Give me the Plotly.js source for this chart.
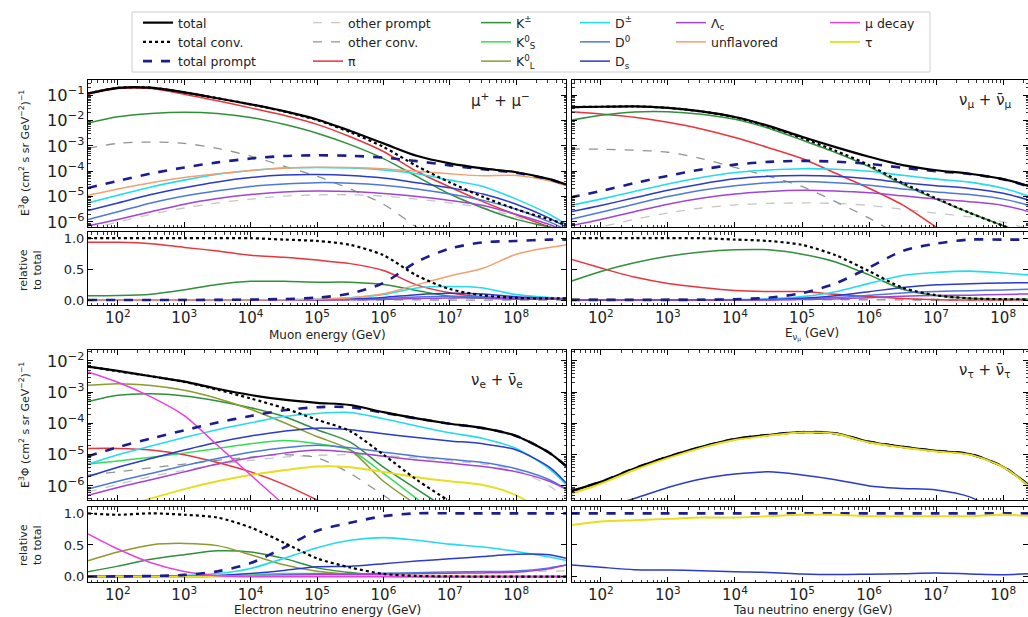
<!DOCTYPE html>
<html>
<head>
<meta charset="utf-8">
<script src="https://cdn.plot.ly/plotly-3.0.1.min.js"></script>
<style>
  html, body { margin: 0; padding: 0; background: #fff; }
  #chart { width: 1028px; height: 617px; }
</style>
</head>
<body>
<div id="chart"></div>
<script>
// Energy grid (GeV)
const energy = [35.5, 1e2, 3.16e2, 1e3, 3.16e3, 1e4, 3.16e4, 1e5, 3.16e5, 1e6, 3.16e6, 1e7, 3.16e7, 1e8, 3.16e8, 5.62e8];

// All fluxes below are log10 of E^3 Phi, in (cm^2 s sr GeV^-2)^-1

// Muons
const muTotal        = [-0.93, -0.71, -0.70, -0.89, -1.12, -1.36, -1.63, -1.96, -2.41, -2.90, -3.39, -3.69, -3.89, -4.04, -4.31, -4.52];
const muConv         = [-0.93, -0.71, -0.70, -0.89, -1.12, -1.36, -1.64, -1.98, -2.46, -3.04, -3.79, -4.44, -5.01, -5.50, -5.90, -6.10];
const muPrompt       = [-4.66, -4.38, -4.09, -3.85, -3.65, -3.50, -3.40, -3.37, -3.39, -3.46, -3.60, -3.77, -3.92, -4.06, -4.32, -4.53];
const muOtherPrompt  = [-6.30, -6.00, -5.70, -5.45, -5.25, -5.10, -4.98, -4.93, -4.93, -4.98, -5.10, -5.25, -5.45, -5.80, -6.30, -6.60];
const muOtherConv    = [-3.10, -2.90, -2.85, -2.90, -3.10, -3.40, -3.80, -4.20, -4.70, -5.30, -6.20, -7.00, -7.60, -8.10, -8.50, -8.70];
const muPi           = [-0.96, -0.74, -0.74, -0.96, -1.22, -1.50, -1.79, -2.15, -2.64, -3.22, -4.00, -4.62, -5.20, -5.72, -6.20, -6.45];
const muK            = [-2.10, -1.85, -1.72, -1.67, -1.72, -1.88, -2.15, -2.50, -2.95, -3.50, -4.20, -4.90, -5.45, -5.90, -6.20, -6.35];
const muDpm          = [-5.25, -4.95, -4.62, -4.35, -4.12, -3.97, -3.87, -3.85, -3.87, -3.95, -4.10, -4.35, -4.60, -5.10, -5.70, -6.10];
const muD0           = [-5.90, -5.60, -5.25, -4.98, -4.77, -4.60, -4.50, -4.45, -4.47, -4.55, -4.70, -4.90, -5.15, -5.50, -6.00, -6.30];
const muDs           = [-5.55, -5.25, -4.92, -4.65, -4.42, -4.25, -4.15, -4.13, -4.17, -4.27, -4.45, -4.65, -4.90, -5.30, -5.85, -6.20];
const muLc           = [-6.15, -5.90, -5.60, -5.30, -5.08, -4.92, -4.82, -4.78, -4.80, -4.88, -5.00, -5.15, -5.35, -5.70, -6.10, -6.40];
const muUnflavored   = [-4.95, -4.70, -4.45, -4.25, -4.10, -3.97, -3.88, -3.84, -3.85, -3.90, -4.00, -4.10, -4.18, -4.17, -4.38, -4.57];

// Muon neutrinos
const nmTotal        = [-1.47, -1.455, -1.44, -1.50, -1.64, -1.86, -2.21, -2.64, -3.05, -3.43, -3.76, -3.96, -4.10, -4.31, -4.70, -5.00];
const nmConv         = [-1.47, -1.455, -1.44, -1.50, -1.64, -1.87, -2.23, -2.69, -3.19, -3.76, -4.46, -5.07, -5.64, -6.15, -6.60, -6.85];
const nmPrompt       = [-5.03, -4.78, -4.47, -4.18, -3.93, -3.74, -3.63, -3.59, -3.62, -3.71, -3.86, -4.00, -4.11, -4.32, -4.71, -5.01];
const nmOtherPrompt  = [-6.50, -6.20, -5.90, -5.65, -5.45, -5.33, -5.27, -5.25, -5.27, -5.35, -5.50, -5.65, -5.80, -6.00, -6.40, -6.70];
const nmOtherConv    = [-3.12, -3.13, -3.17, -3.25, -3.50, -3.85, -4.20, -4.60, -5.20, -5.85, -6.60, -7.30, -8.00, -8.50, -9.00, -9.30];
const nmPi           = [-1.65, -1.74, -1.87, -2.07, -2.33, -2.67, -3.07, -3.50, -4.08, -4.67, -5.33, -6.20, -7.00, -7.60, -8.20, -8.50];
const nmK            = [-1.99, -1.79, -1.66, -1.65, -1.75, -1.95, -2.30, -2.77, -3.26, -3.82, -4.52, -5.10, -5.64, -6.15, -6.60, -6.85];
const nmDpm          = [-5.35, -5.10, -4.80, -4.50, -4.25, -4.05, -3.95, -3.90, -3.92, -4.00, -4.16, -4.31, -4.43, -4.67, -5.10, -5.40];
const nmD0           = [-5.90, -5.62, -5.30, -5.00, -4.75, -4.57, -4.45, -4.40, -4.45, -4.55, -4.70, -4.82, -4.92, -5.10, -5.45, -5.75];
const nmDs           = [-5.60, -5.35, -5.05, -4.75, -4.50, -4.30, -4.20, -4.17, -4.20, -4.30, -4.45, -4.57, -4.68, -4.87, -5.25, -5.55];
const nmLc           = [-6.15, -5.90, -5.60, -5.30, -5.07, -4.90, -4.80, -4.75, -4.78, -4.85, -4.97, -5.10, -5.20, -5.35, -5.70, -6.00];

// Electron neutrinos
const neTotal        = [-2.18, -2.32, -2.49, -2.66, -2.89, -3.09, -3.24, -3.34, -3.41, -3.64, -3.84, -4.01, -4.15, -4.40, -4.94, -5.36];
const neConv         = [-2.18, -2.33, -2.49, -2.67, -2.92, -3.20, -3.51, -3.88, -4.25, -5.00, -5.80, -6.50, -7.20, -7.80, -8.30, -8.50];
const nePrompt       = [-5.05, -4.76, -4.48, -4.22, -3.97, -3.76, -3.58, -3.48, -3.48, -3.66, -3.84, -4.01, -4.15, -4.40, -4.94, -5.36];
const neOtherPrompt  = [-6.20, -5.95, -5.70, -5.50, -5.32, -5.18, -5.08, -5.02, -5.00, -5.03, -5.10, -5.20, -5.30, -5.50, -6.00, -6.40];
const neOtherConv    = [-5.65, -5.55, -5.42, -5.30, -5.18, -5.08, -5.00, -5.10, -5.60, -6.30, -7.00, -7.70, -8.30, -8.80, -9.20, -9.40];
const nePi           = [-4.80, -4.80, -4.85, -5.00, -5.25, -5.55, -5.95, -6.45, -7.00, -7.60, -8.20, -8.80, -9.40, -10.0, -10.5, -10.8];
const neK            = [-3.30, -3.10, -3.05, -3.12, -3.28, -3.50, -3.78, -4.20, -4.60, -5.40, -6.10, -6.80, -7.50, -8.10, -8.60, -8.90];
const neK0S          = [-5.30, -5.20, -5.08, -4.95, -4.80, -4.65, -4.55, -4.65, -4.85, -5.60, -6.40, -7.20, -8.00, -8.60, -9.00, -9.30];
const neK0L          = [-2.78, -2.73, -2.79, -2.94, -3.20, -3.55, -3.97, -4.42, -4.85, -5.85, -6.60, -7.30, -8.00, -8.60, -9.00, -9.30];
const neDpm          = [-5.30, -5.00, -4.72, -4.45, -4.20, -3.98, -3.78, -3.68, -3.65, -3.85, -4.08, -4.30, -4.48, -4.80, -5.45, -5.95];
const neD0           = [-6.10, -5.85, -5.60, -5.35, -5.12, -4.92, -4.78, -4.70, -4.78, -4.92, -5.05, -5.15, -5.25, -5.45, -5.80, -6.10];
const neDs           = [-5.70, -5.40, -5.12, -4.85, -4.60, -4.40, -4.25, -4.15, -4.20, -4.33, -4.45, -4.56, -4.65, -4.85, -5.40, -5.90];
const neLc           = [-6.30, -6.05, -5.80, -5.55, -5.30, -5.10, -4.95, -4.85, -4.92, -5.05, -5.17, -5.27, -5.38, -5.55, -5.85, -6.10];
const neMuDecay      = [-2.35, -2.68, -3.15, -3.75, -4.70, -5.65, -6.60, -7.60, -8.60, -9.50, -10.0, -10.5, -11.0, -11.5, -12.0, -12.3];
const neTau          = [-7.00, -6.70, -6.40, -6.10, -5.85, -5.65, -5.50, -5.38, -5.40, -5.55, -5.72, -5.85, -5.97, -6.30, -7.00, -7.50];

// Tau neutrinos
const ntTotal        = [-6.17, -5.87, -5.44, -5.07, -4.75, -4.50, -4.37, -4.28, -4.32, -4.59, -4.75, -4.88, -4.98, -5.39, -6.20, -6.80];
const ntPrompt       = [-6.17, -5.87, -5.44, -5.07, -4.75, -4.50, -4.37, -4.28, -4.32, -4.59, -4.75, -4.88, -4.98, -5.39, -6.20, -6.80];
const ntDs           = [-6.90, -6.70, -6.40, -6.05, -5.78, -5.62, -5.55, -5.65, -5.80, -6.00, -6.08, -6.13, -6.35, -6.90, -7.50, -8.00];
const ntTau          = [-6.26, -5.93, -5.49, -5.11, -4.78, -4.53, -4.39, -4.29, -4.33, -4.61, -4.77, -4.90, -5.00, -5.40, -6.22, -6.82];

// Line styles per component
const styles = {
  otherPrompt: { name: 'other prompt', color: '#c6c6c6', width: 1.3, dash: 'dash' },
  otherConv:   { name: 'other conv.',  color: '#8d968d', width: 1.3, dash: 'dash' },
  pi:          { name: 'π',            color: '#e8343c', width: 1.5 },
  K:           { name: 'K<sup>±</sup>', color: '#2f8f3a', width: 1.5 },
  K0S:         { name: 'K<sup>0</sup><sub>S</sub>', color: '#35dc58', width: 1.5 },
  K0L:         { name: 'K<sup>0</sup><sub>L</sub>', color: '#8c9a30', width: 1.5 },
  Dpm:         { name: 'D<sup>±</sup>', color: '#22dcee', width: 1.6 },
  D0:          { name: 'D<sup>0</sup>', color: '#4d78dc', width: 1.5 },
  Ds:          { name: 'D<sub>s</sub>', color: '#2a3acb', width: 1.5 },
  Lc:          { name: 'Λ<sub>c</sub>', color: '#a043d6', width: 1.5 },
  unfl:        { name: 'unflavored',   color: '#f2a070', width: 1.5 },
  mu:          { name: 'μ decay',      color: '#e840de', width: 1.5 },
  tau:         { name: 'τ',            color: '#e6de1e', width: 1.9 },
  prompt:      { name: 'total prompt', color: '#1c1c8f', width: 2.6, dash: 'dash' },
  conv:        { name: 'total conv.',  color: '#000000', width: 2.2, dash: 'dot' },
  total:       { name: 'total',        color: '#000000', width: 2.2 }
};

const legendColumns = [
  ['total', 'conv', 'prompt'],
  ['otherPrompt', 'otherConv', 'pi'],
  ['K', 'K0S', 'K0L'],
  ['Dpm', 'D0', 'Ds'],
  ['Lc', 'unfl'],
  ['mu', 'tau']
];

// Each panel: main axes, ratio axes, total and drawn components (in drawing order)
const panels = [
  { main: ['x', 'y'], rel: ['x2', 'y2'], total: muTotal, series: [
    ['otherPrompt', muOtherPrompt], ['otherConv', muOtherConv], ['pi', muPi], ['K', muK],
    ['Dpm', muDpm], ['D0', muD0], ['Ds', muDs], ['Lc', muLc], ['unfl', muUnflavored],
    ['prompt', muPrompt], ['conv', muConv], ['total', muTotal]] },
  { main: ['x3', 'y3'], rel: ['x4', 'y4'], total: nmTotal, series: [
    ['otherPrompt', nmOtherPrompt], ['otherConv', nmOtherConv], ['pi', nmPi], ['K', nmK],
    ['Dpm', nmDpm], ['D0', nmD0], ['Ds', nmDs], ['Lc', nmLc],
    ['prompt', nmPrompt], ['conv', nmConv], ['total', nmTotal]] },
  { main: ['x5', 'y5'], rel: ['x6', 'y6'], total: neTotal, series: [
    ['otherPrompt', neOtherPrompt], ['otherConv', neOtherConv], ['pi', nePi], ['K', neK],
    ['K0S', neK0S], ['K0L', neK0L], ['Dpm', neDpm], ['D0', neD0], ['Ds', neDs], ['Lc', neLc],
    ['tau', neTau], ['mu', neMuDecay], ['prompt', nePrompt], ['conv', neConv], ['total', neTotal]] },
  { main: ['x7', 'y7'], rel: ['x8', 'y8'], total: ntTotal, series: [
    ['Ds', ntDs], ['prompt', ntPrompt], ['total', ntTotal], ['tau', ntTau]] }
];

const pow10 = arr => arr.map(v => Math.pow(10, v));
const relative = (arr, tot) => arr.map((v, i) => Math.pow(10, v - tot[i]));

const traces = [];
panels.forEach(p => {
  p.series.forEach(([key, vals]) => {
    const s = styles[key];
    const line = { color: s.color, width: s.width, dash: s.dash || 'solid', shape: 'spline', smoothing: 0.8 };
    traces.push({ type: 'scatter', mode: 'lines', x: energy, y: pow10(vals),
      xaxis: p.main[0], yaxis: p.main[1], line: line, showlegend: false, hoverinfo: 'skip' });
    if (key !== 'total') {
      traces.push({ type: 'scatter', mode: 'lines', x: energy, y: relative(vals, p.total),
        xaxis: p.rel[0], yaxis: p.rel[1], line: line, showlegend: false, hoverinfo: 'skip' });
    }
  });
});

// Legend entries, one legend per column
legendColumns.forEach((col, ci) => {
  col.forEach(key => {
    const s = styles[key];
    traces.push({ type: 'scatter', mode: 'lines', x: [null], y: [null], xaxis: 'x', yaxis: 'y',
      name: s.name, legend: ci === 0 ? 'legend' : 'legend' + (ci + 1),
      line: { color: s.color, width: s.width, dash: s.dash || 'solid' }, showlegend: true, hoverinfo: 'skip' });
  });
});

const W = 1028, H = 617;
const px = v => v / W;
const py = v => 1 - v / H;

const font = { family: 'DejaVu Sans, sans-serif', size: 12, color: '#222' };

function xAxis(domain, range, labels) {
  return {
    type: 'log', domain: domain, range: range, dtick: 1, exponentformat: 'power',
    showticklabels: labels, ticks: 'inside', ticklen: 5, tickwidth: 1, tickcolor: '#000',
    minor: { ticks: 'inside', ticklen: 2.5, tickwidth: 0.8, tickcolor: '#000', dtick: 'D1', showgrid: false },
    showline: true, linecolor: '#000', linewidth: 1, mirror: 'allticks',
    showgrid: false, zeroline: false, tickfont: { size: 12 }, ticklabelstandoff: 0
  };
}
function yLog(domain, range, labels, anchor) {
  return {
    type: 'log', domain: domain, range: range, dtick: 1, exponentformat: 'power', anchor: anchor,
    showticklabels: labels, ticks: 'inside', ticklen: 5, tickwidth: 1, tickcolor: '#000',
    minor: { ticks: 'inside', ticklen: 2.5, tickwidth: 0.8, tickcolor: '#000', dtick: 'D1', showgrid: false },
    showline: true, linecolor: '#000', linewidth: 1, mirror: 'allticks',
    showgrid: false, zeroline: false, tickfont: { size: 13 }
  };
}
function yRel(domain, range, labels, anchor) {
  return {
    type: 'linear', domain: domain, range: range, tickvals: [0, 0.5, 1], ticktext: ['0.0', '0.5', '1.0'],
    anchor: anchor, showticklabels: labels, ticks: 'inside', ticklen: 5, tickwidth: 1, tickcolor: '#000',
    showline: true, linecolor: '#000', linewidth: 1, mirror: 'allticks',
    showgrid: false, zeroline: false, tickfont: { size: 13 }
  };
}

const leftX = [px(88), px(566)], rightX = [px(572), 1];
const leftRange = [1.55, 8.75], rightRange = [1.57, 8.37];
const topMain = [py(227), py(80)], topRel = [py(305), py(232)];
const botMain = [py(500), py(350)], botRel = [py(582), py(507)];

const layout = {
  width: W, height: H,
  margin: { l: 0, r: 0, t: 0, b: 0 },
  paper_bgcolor: '#fff', plot_bgcolor: '#fff',
  font: font,
  hovermode: false,
  xaxis:  Object.assign(xAxis(leftX, leftRange, false), { anchor: 'y' }),
  yaxis:  yLog(topMain, [-6.2, -0.4], true, 'x'),
  xaxis2: Object.assign(xAxis(leftX, leftRange, true), { anchor: 'y2' }),
  yaxis2: yRel(topRel, [-0.08, 1.1], true, 'x2'),
  xaxis3: Object.assign(xAxis(rightX, rightRange, false), { anchor: 'y3' }),
  yaxis3: yLog(topMain, [-6.2, -0.4], false, 'x3'),
  xaxis4: Object.assign(xAxis(rightX, rightRange, true), { anchor: 'y4' }),
  yaxis4: yRel(topRel, [-0.08, 1.1], false, 'x4'),
  xaxis5: Object.assign(xAxis(leftX, leftRange, false), { anchor: 'y5' }),
  yaxis5: yLog(botMain, [-6.45, -1.65], true, 'x5'),
  xaxis6: Object.assign(xAxis(leftX, leftRange, true), { anchor: 'y6' }),
  yaxis6: yRel(botRel, [-0.085, 1.1], true, 'x6'),
  xaxis7: Object.assign(xAxis(rightX, rightRange, false), { anchor: 'y7' }),
  yaxis7: yLog(botMain, [-6.45, -1.65], false, 'x7'),
  xaxis8: Object.assign(xAxis(rightX, rightRange, true), { anchor: 'y8' }),
  yaxis8: yRel(botRel, [-0.085, 1.1], false, 'x8'),
  shapes: [
    { type: 'rect', xref: 'paper', yref: 'paper', x0: px(132), x1: px(930), y0: py(72), y1: py(12),
      line: { color: '#cfcfcf', width: 1 }, fillcolor: 'rgba(0,0,0,0)', layer: 'below' }
  ],
  annotations: [
    { text: 'μ<sup>+</sup> + μ<sup>−</sup>', x: px(469), y: py(100), xanchor: 'left', yanchor: 'middle', font: { size: 15 } },
    { text: 'ν<sub>μ</sub> + ν̄<sub>μ</sub>', x: px(957), y: py(100), xanchor: 'left', yanchor: 'middle', font: { size: 15 } },
    { text: 'ν<sub>e</sub> + ν̄<sub>e</sub>', x: px(469), y: py(380), xanchor: 'left', yanchor: 'middle', font: { size: 15 } },
    { text: 'ν<sub>τ</sub> + ν̄<sub>τ</sub>', x: px(957), y: py(370), xanchor: 'left', yanchor: 'middle', font: { size: 15 } },
    { text: 'Muon energy (GeV)', x: px(327), y: py(335), xanchor: 'center', yanchor: 'middle', font: { size: 12 } },
    { text: 'E<sub>ν<sub>μ</sub></sub> (GeV)', x: px(812), y: py(334), xanchor: 'center', yanchor: 'middle', font: { size: 12 } },
    { text: 'Electron neutrino energy (GeV)', x: px(327), y: py(610), xanchor: 'center', yanchor: 'middle', font: { size: 12 } },
    { text: 'Tau neutrino energy (GeV)', x: px(812), y: py(610), xanchor: 'center', yanchor: 'middle', font: { size: 12 } },
    { text: 'E<sup>3</sup>Φ (cm<sup>2</sup> s sr GeV<sup>−2</sup>)<sup>−1</sup>', x: px(24), y: py(153), textangle: -90, xanchor: 'center', yanchor: 'middle', font: { size: 11 } },
    { text: 'relative<br>to total', x: px(30), y: py(270), textangle: -90, xanchor: 'center', yanchor: 'middle', font: { size: 11 } },
    { text: 'E<sup>3</sup>Φ (cm<sup>2</sup> s sr GeV<sup>−2</sup>)<sup>−1</sup>', x: px(24), y: py(425), textangle: -90, xanchor: 'center', yanchor: 'middle', font: { size: 11 } },
    { text: 'relative<br>to total', x: px(30), y: py(545), textangle: -90, xanchor: 'center', yanchor: 'middle', font: { size: 11 } }
  ].map(a => Object.assign({ xref: 'paper', yref: 'paper', showarrow: false }, a))
};

// Legend boxes, one per column
const legendText = [180, 350, 518, 617, 713, 867];
legendText.forEach((tx, i) => {
  const key = i === 0 ? 'legend' : 'legend' + (i + 1);
  layout[key] = {
    x: px(tx - 42), y: py(8), xanchor: 'left', yanchor: 'top', orientation: 'v',
    bgcolor: 'rgba(0,0,0,0)', borderwidth: 0, font: { size: 12.5, color: '#222' },
    tracegroupgap: 0, itemwidth: 30, traceorder: 'normal'
  };
});

Plotly.newPlot('chart', traces, layout, { staticPlot: true, displayModeBar: false });
</script>
</body>
</html>
